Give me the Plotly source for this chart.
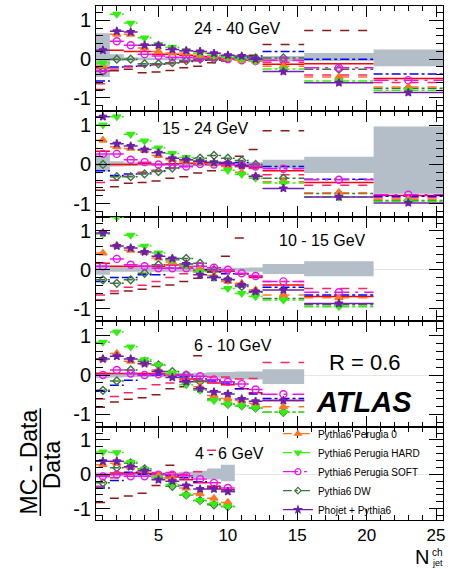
import plotly.graph_objects as go

# ---------------- data ----------------
# bin edges / centres in N_jet^ch
EDGES = [0.5, 1.5, 2.5, 3.5, 4.5, 5.5, 6.5, 7.5, 8.5, 9.5, 10.5, 11.5, 12.5, 15.5, 20.5, 25.5]
CENTERS = [1, 2, 3, 4, 5, 6, 7, 8, 9, 10, 11, 12, 14, 18, 23]

panel_labels = ["24 - 40 GeV", "15 - 24 GeV", "10 - 15 GeV", "6 - 10 GeV", "4 - 6 GeV"]
panel_nbins = [15, 15, 14, 13, 10]

# --- panel 1: 24-40 GeV
p1_perugia0 = [-0.18, 0.64, 0.64, 0.29, 0.20, 0.16, 0.16, 0.10, 0.08, 0.03, -0.03, -0.05, -0.18, -0.46, -0.72]
p1_hard     = [-0.10, 1.16, 0.93, 0.55, 0.38, 0.31, 0.22, 0.15, 0.10, 0.05, 0.00, -0.05, -0.25, -0.56, -0.80]
p1_soft     = [-0.30, 0.46, 0.36, 0.13, 0.08, 0.05, 0.05, 0.03, 0.05, 0.00, -0.03, -0.05, -0.03, -0.22, -0.54]
p1_dw       = [-0.31, 0.00, 0.00, -0.12, -0.12, -0.09, -0.04, 0.00, 0.00, 0.05, 0.03, 0.03, 0.03, -0.26, -0.75]
p1_phojet   = [0.23, 0.72, 0.70, 0.36, 0.36, 0.25, 0.22, 0.20, 0.15, 0.10, 0.08, 0.00, -0.32, -0.61, -0.86]
p1_red      = [-0.22, 0.23, 0.20, 0.20, 0.13, 0.13, 0.10, 0.07, 0.03, 0.00, -0.02, 0.00, -0.13, -0.12, -0.50]
p1_blue     = [-0.56, -0.20, -0.18, -0.16, -0.13, -0.09, -0.06, -0.03, -0.02, 0.05, 0.05, 0.08, 0.20, 0.00, -0.38]
p1_pink     = [-0.63, -0.25, -0.20, -0.18, -0.15, -0.12, -0.08, -0.05, -0.03, 0.00, 0.00, 0.00, -0.08, -0.41, -0.60]
p1_brown    = [-0.78, -0.30, -0.26, -0.35, -0.33, -0.29, -0.22, -0.18, -0.09, -0.05, 0.00, 0.10, 0.38, 0.74, None]
p1_band_lo  = [-0.46, -0.05, -0.04, -0.03, -0.03, -0.03, -0.03, -0.03, -0.03, -0.03, -0.04, -0.04, -0.06, -0.05, -0.18]
p1_band_hi  = [0.67, 0.13, 0.05, 0.04, 0.03, 0.03, 0.03, 0.03, 0.04, 0.04, 0.04, 0.05, 0.08, 0.16, 0.25]

# --- panel 2: 15-24 GeV
p2_perugia0 = [0.62, 0.45, 0.41, 0.36, 0.23, 0.12, 0.08, 0.05, 0.02, -0.05, -0.20, -0.31, -0.44, -0.72, -0.89]
p2_hard     = [1.01, 1.22, 0.77, 0.60, 0.42, 0.28, 0.18, 0.10, 0.05, -0.15, -0.25, -0.35, -0.47, -0.83, -0.94]
p2_soft     = [0.27, 0.27, 0.12, 0.06, 0.00, 0.00, -0.05, 0.01, 0.00, 0.00, -0.02, -0.05, -0.11, -0.39, -0.77]
p2_dw       = [0.00, -0.31, -0.31, -0.24, -0.18, -0.09, 0.12, 0.16, 0.23, 0.16, 0.10, 0.00, -0.35, -0.74, -0.92]
p2_phojet   = [1.22, 0.53, 0.47, 0.38, 0.30, 0.16, 0.12, 0.08, 0.05, 0.03, -0.03, -0.30, -0.61, -0.83, -0.98]
p2_red      = [0.34, 0.00, 0.00, 0.02, 0.00, 0.02, 0.03, 0.05, 0.05, 0.00, -0.05, -0.08, -0.16, -0.46, -0.79]
p2_blue     = [-0.16, -0.28, -0.24, -0.22, -0.16, -0.09, -0.05, 0.00, 0.02, 0.03, 0.05, -0.05, -0.05, -0.38, -0.81]
p2_pink     = [-0.46, -0.40, -0.30, -0.20, -0.15, -0.10, -0.05, 0.00, 0.00, -0.02, -0.05, -0.10, -0.26, -0.53, -0.85]
p2_brown    = [-0.66, -0.57, -0.48, -0.46, -0.42, -0.35, -0.31, -0.22, -0.16, 0.05, 0.21, 0.38, 0.86, None, None]
p2_band_lo  = [-0.18, -0.05, -0.04, -0.03, -0.03, -0.03, -0.03, -0.03, -0.04, -0.04, -0.04, -0.05, -0.10, -0.22, -0.75]
p2_band_hi  = [0.25, 0.08, 0.05, 0.04, 0.04, 0.04, 0.04, 0.04, 0.05, 0.05, 0.05, 0.06, 0.12, 0.20, 0.97]

# --- panel 3: 10-15 GeV
p3_perugia0 = [0.43, 0.63, 0.50, 0.45, 0.30, 0.20, 0.10, 0.00, -0.15, -0.30, -0.35, -0.52, -0.65, -0.72]
p3_hard     = [0.92, 1.35, 0.89, 0.61, 0.43, 0.25, 0.10, -0.05, -0.20, -0.48, -0.61, -0.69, -0.78, -0.95]
p3_soft     = [0.09, 0.28, 0.13, 0.09, 0.04, 0.04, 0.04, 0.09, 0.05, 0.00, -0.09, -0.16, -0.30, -0.58]
p3_dw       = [-0.26, -0.35, -0.26, -0.09, 0.13, 0.26, 0.29, 0.17, 0.00, -0.26, -0.43, -0.58, -0.74, -0.90]
p3_phojet   = [0.95, 0.61, 0.56, 0.46, 0.35, 0.29, 0.15, -0.13, -0.20, -0.25, -0.39, -0.56, -0.52, -0.87]
p3_red      = [0.17, 0.09, 0.09, 0.09, 0.09, 0.12, 0.08, 0.00, -0.05, -0.04, -0.10, -0.20, -0.39, -0.69]
p3_blue     = [-0.30, -0.20, -0.20, -0.13, -0.13, 0.04, 0.04, 0.00, -0.05, -0.10, -0.10, -0.17, -0.45, -0.65]
p3_pink     = [-0.65, -0.55, -0.45, -0.40, -0.30, -0.20, -0.10, -0.05, 0.00, -0.05, -0.10, -0.15, -0.30, -0.48]
p3_brown    = [-0.78, -0.61, -0.55, -0.50, -0.43, -0.39, -0.30, -0.22, -0.05, 0.35, 0.82, None, None, None]
p3_band_lo  = [-0.13, -0.05, -0.05, -0.05, -0.05, -0.05, -0.05, -0.05, -0.05, -0.05, -0.05, -0.05, -0.11, -0.17]
p3_band_hi  = [0.13, 0.09, 0.08, 0.07, 0.07, 0.06, 0.06, 0.06, 0.06, 0.05, 0.05, 0.06, 0.15, 0.22]

# --- panel 4: 6-10 GeV
p4_perugia0 = [0.41, 0.55, 0.35, 0.30, 0.13, 0.00, -0.17, -0.30, -0.52, -0.60, -0.65, -0.72, -0.81]
p4_hard     = [0.84, 1.10, 0.72, 0.39, 0.26, 0.05, -0.25, -0.39, -0.65, -0.74, -0.78, -0.84, -0.95]
p4_soft     = [0.00, 0.13, 0.04, 0.00, 0.02, 0.00, 0.00, -0.03, -0.11, -0.17, -0.23, -0.37, -0.49]
p4_dw       = [-0.39, -0.15, 0.13, 0.35, 0.26, 0.09, 0.00, -0.17, -0.61, -0.74, -0.78, -0.84, -0.95]
p4_phojet   = [0.41, 0.48, 0.41, 0.29, 0.09, -0.06, -0.17, -0.35, -0.43, -0.48, -0.61, -0.67, -0.65]
p4_red      = [0.04, 0.04, 0.04, 0.04, 0.04, 0.00, -0.10, -0.15, -0.20, -0.25, -0.35, -0.45, -0.65]
p4_blue     = [-0.41, -0.26, -0.13, 0.00, 0.00, 0.00, -0.05, -0.10, -0.15, -0.20, -0.35, -0.48, -0.60]
p4_pink     = [-0.61, -0.55, -0.45, -0.35, -0.25, -0.20, -0.15, -0.10, -0.05, -0.05, -0.10, -0.09, 0.32]
p4_brown    = [-0.82, -0.69, -0.62, -0.58, -0.50, -0.35, -0.30, 0.49, None, None, None, None, None]
p4_band_lo  = [-0.08, -0.06, -0.05, -0.05, -0.05, -0.05, -0.05, -0.06, -0.07, -0.10, -0.11, -0.11, -0.23]
p4_band_hi  = [0.07, 0.05, 0.05, 0.05, 0.05, 0.05, 0.05, 0.06, 0.07, 0.08, 0.09, 0.09, 0.15]

# --- panel 5: 4-6 GeV
p5_perugia0 = [0.28, 0.32, 0.20, 0.10, -0.05, -0.12, -0.40, -0.57, -0.70, -0.82]
p5_hard     = [0.65, 0.63, 0.35, 0.15, -0.10, -0.30, -0.60, -0.76, -0.86, -0.94]
p5_soft     = [-0.06, -0.01, -0.06, -0.06, -0.01, -0.01, -0.04, -0.14, -0.25, -0.40]
p5_dw       = [-0.25, 0.19, 0.33, 0.16, -0.10, -0.35, -0.60, -0.76, -0.89, -0.94]
p5_phojet   = [0.38, 0.38, 0.22, 0.10, -0.16, -0.20, -0.33, -0.43, -0.43, -0.50]
p5_red      = [-0.02, 0.04, 0.04, 0.02, 0.00, -0.08, -0.16, -0.25, -0.35, -0.45]
p5_blue     = [-0.40, -0.18, 0.06, 0.00, 0.00, -0.03, -0.10, -0.22, -0.40, -0.50]
p5_pink     = [-0.35, -0.10, 0.00, 0.05, 0.05, 0.05, 0.00, 0.07, 0.70, None]
p5_brown    = [-0.82, -0.70, -0.63, -0.55, -0.33, 0.26, None, None, None, None]
p5_band_lo  = [-0.10, -0.06, -0.05, -0.05, -0.06, -0.07, -0.08, -0.10, -0.15, -0.20]
p5_band_hi  = [0.05, 0.04, 0.04, 0.04, 0.05, 0.05, 0.07, 0.10, 0.17, 0.28]

# ---------------- styles ----------------
SERIES = [
    # key, legend name, color, dash, marker symbol, marker size
    ("red", None, "#FF0000", "solid", None, 0),
    ("blue", None, "#0000FF", "dashdot", None, 0),
    ("pink", None, "#FF2266", "dash", None, 0),
    ("brown", None, "#8B1A1A", "dash", None, 0),
    ("dw", "Pythia6 DW", "#3F743F", "dashdot", "diamond-open", 6),
    ("soft", "Pythia6 Perugia SOFT", "#EE11EE", "longdashdot", "circle-open", 7),
    ("perugia0", "Pythia6 Perugia 0", "#FF7722", "dash", "triangle-up", 7),
    ("hard", "Pythia6 Perugia HARD", "#33EE11", "dashdot", "triangle-down", 7),
    ("phojet", "Phojet + Pythia6", "#6F1FA8", "solid", "star", 6),
]
LEGEND_ORDER = ["perugia0", "hard", "soft", "dw", "phojet"]

data = {
    1: dict(perugia0=p1_perugia0, hard=p1_hard, soft=p1_soft, dw=p1_dw, phojet=p1_phojet,
            red=p1_red, blue=p1_blue, pink=p1_pink, brown=p1_brown, lo=p1_band_lo, hi=p1_band_hi),
    2: dict(perugia0=p2_perugia0, hard=p2_hard, soft=p2_soft, dw=p2_dw, phojet=p2_phojet,
            red=p2_red, blue=p2_blue, pink=p2_pink, brown=p2_brown, lo=p2_band_lo, hi=p2_band_hi),
    3: dict(perugia0=p3_perugia0, hard=p3_hard, soft=p3_soft, dw=p3_dw, phojet=p3_phojet,
            red=p3_red, blue=p3_blue, pink=p3_pink, brown=p3_brown, lo=p3_band_lo, hi=p3_band_hi),
    4: dict(perugia0=p4_perugia0, hard=p4_hard, soft=p4_soft, dw=p4_dw, phojet=p4_phojet,
            red=p4_red, blue=p4_blue, pink=p4_pink, brown=p4_brown, lo=p4_band_lo, hi=p4_band_hi),
    5: dict(perugia0=p5_perugia0, hard=p5_hard, soft=p5_soft, dw=p5_dw, phojet=p5_phojet,
            red=p5_red, blue=p5_blue, pink=p5_pink, brown=p5_brown, lo=p5_band_lo, hi=p5_band_hi),
}

# layout geometry (pixels)
W, H = 450, 569
ML, MR, MT, MB = 96, 5, 5, 49
PW, PH = W - ML - MR, H - MT - MB
panel_px = [(5, 110), (110, 216), (216, 321), (321, 427), (427, 520)]


def py2paper(py):
    return (H - MB - py) / PH


def px2paper(px):
    return (px - ML) / PW


FONT = "Liberation Sans, Arial, Helvetica, sans-serif"
YR = [-1.33, 1.37]
XR = [0.5, 25.5]

fig = go.Figure()

for p in range(1, 6):
    d = data[p]
    n = panel_nbins[p - 1]
    lo_e = EDGES[:n]
    hi_e = EDGES[1:n + 1]
    ctr = CENTERS[:n]
    xa = "x" if p == 1 else f"x{p}"
    ya = "y" if p == 1 else f"y{p}"
    bx, by = [], []
    for j in range(n):
        bx += [lo_e[j], hi_e[j], hi_e[j], lo_e[j], lo_e[j], None]
        by += [d["lo"][j], d["lo"][j], d["hi"][j], d["hi"][j], d["lo"][j], None]
    fig.add_trace(go.Scatter(x=bx, y=by, mode="lines", fill="toself", fillcolor="#B3BEC8",
                             line=dict(width=0, color="#B3BEC8"), showlegend=False,
                             hoverinfo="skip", xaxis=xa, yaxis=ya))
    for key, name, color, dash, sym, msz in SERIES:
        vals = d[key]
        sx, sy, mx, my = [], [], [], []
        for j in range(n):
            v = vals[j]
            if v is None:
                continue
            sx += [lo_e[j], hi_e[j], None]
            sy += [v, v, None]
            mx.append(ctr[j])
            my.append(v)
        fig.add_trace(go.Scatter(x=sx, y=sy, mode="lines",
                                 line=dict(color=color, dash=dash, width=1.5),
                                 showlegend=False, xaxis=xa, yaxis=ya))
        if sym:
            fig.add_trace(go.Scatter(x=mx, y=my, mode="markers",
                                     marker=dict(symbol=sym, size=msz, color=color,
                                                 line=dict(color=color, width=1.4)),
                                     showlegend=False, xaxis=xa, yaxis=ya))

# legend entries
for key in LEGEND_ORDER:
    _, name, color, dash, sym, msz = [t for t in SERIES if t[0] == key][0]
    fig.add_trace(go.Scatter(x=[None], y=[None], mode="lines+markers", name=name,
                             line=dict(color=color, dash=dash, width=1.3),
                             marker=dict(symbol=sym, size=msz - 1, color=color,
                                         line=dict(color=color, width=1.2)),
                             xaxis="x5", yaxis="y5"))

layout = dict(
    width=W, height=H,
    margin=dict(l=ML, r=MR, t=MT, b=MB),
    paper_bgcolor="white", plot_bgcolor="white",
    font=dict(family=FONT, color="black"),
    showlegend=True,
    legend=dict(x=px2paper(279), y=py2paper(419), xanchor="left", yanchor="top",
                bgcolor="rgba(0,0,0,0)", font=dict(size=10, family=FONT),
                tracegroupgap=0, itemwidth=30),
)

for p in range(1, 6):
    top, bot = panel_px[p - 1]
    xk = "xaxis" if p == 1 else f"xaxis{p}"
    yk = "yaxis" if p == 1 else f"yaxis{p}"
    xa = "x" if p == 1 else f"x{p}"
    ya = "y" if p == 1 else f"y{p}"
    layout[xk] = dict(
        domain=[0, 1], anchor=ya, range=XR, showgrid=False, zeroline=False,
        showline=True, linecolor="black", linewidth=1, mirror="allticks",
        ticks="inside", ticklen=11, tickwidth=1, tickcolor="black",
        tickvals=[5, 10, 15, 20, 25],
        minor=dict(ticks="inside", ticklen=5, dtick=1, tick0=0, tickcolor="black", showgrid=False),
        showticklabels=(p == 5), tickfont=dict(size=17, family=FONT),
    )
    if p != 1:
        layout[xk]["matches"] = "x"
    layout[yk] = dict(
        domain=[py2paper(bot), py2paper(top)], anchor=xa, range=YR, showgrid=False,
        zeroline=True, zerolinecolor="#E6E6E6", zerolinewidth=1,
        showline=True, linecolor="black", linewidth=1, mirror="allticks",
        ticks="inside", ticklen=14, tickwidth=1, tickcolor="black",
        tickvals=[-1, 0, 1], ticktext=["-1", "0", "1"],
        minor=dict(ticks="inside", ticklen=7, dtick=0.2, tick0=0, tickcolor="black", showgrid=False),
        tickfont=dict(size=20, family=FONT),
    )

fig.update_layout(**layout)

ann = []
label_pos = [(238, 28), (206, 128), (324, 240), (234, 345), (230, 453)]
for lab, (px, py) in zip(panel_labels, label_pos):
    ann.append(dict(x=px2paper(px), y=py2paper(py), xref="paper", yref="paper", text=lab,
                    showarrow=False, font=dict(size=16, family=FONT), xanchor="center", yanchor="middle"))
ann.append(dict(x=px2paper(367), y=py2paper(362), xref="paper", yref="paper", text="R = 0.6",
                showarrow=False, font=dict(size=22, family=FONT), xanchor="center", yanchor="middle"))
ann.append(dict(x=px2paper(366), y=py2paper(402), xref="paper", yref="paper", text="<b><i>ATLAS</i></b>",
                showarrow=False, font=dict(size=29, family=FONT), xanchor="center", yanchor="middle"))
ann.append(dict(x=px2paper(29), y=py2paper(462), xref="paper", yref="paper", text="MC - Data",
                showarrow=False, textangle=-90, font=dict(size=23, family=FONT),
                xanchor="center", yanchor="middle"))
ann.append(dict(x=px2paper(52), y=py2paper(465), xref="paper", yref="paper", text="Data",
                showarrow=False, textangle=-90, font=dict(size=23, family=FONT),
                xanchor="center", yanchor="middle"))
ann.append(dict(x=px2paper(424), y=py2paper(557), xref="paper", yref="paper", text="N",
                showarrow=False, font=dict(size=20, family=FONT), xanchor="center", yanchor="middle"))
ann.append(dict(x=px2paper(439), y=py2paper(553), xref="paper", yref="paper", text="ch",
                showarrow=False, font=dict(size=10, family=FONT), xanchor="center", yanchor="middle"))
ann.append(dict(x=px2paper(439), y=py2paper(563), xref="paper", yref="paper", text="jet",
                showarrow=False, font=dict(size=9, family=FONT), xanchor="center", yanchor="middle"))
fig.update_layout(annotations=ann)

fig.add_shape(type="line", xref="paper", yref="paper",
              x0=px2paper(40), x1=px2paper(40), y0=py2paper(408), y1=py2paper(516),
              line=dict(color="black", width=1.5))

fig.write_html("out.html")
